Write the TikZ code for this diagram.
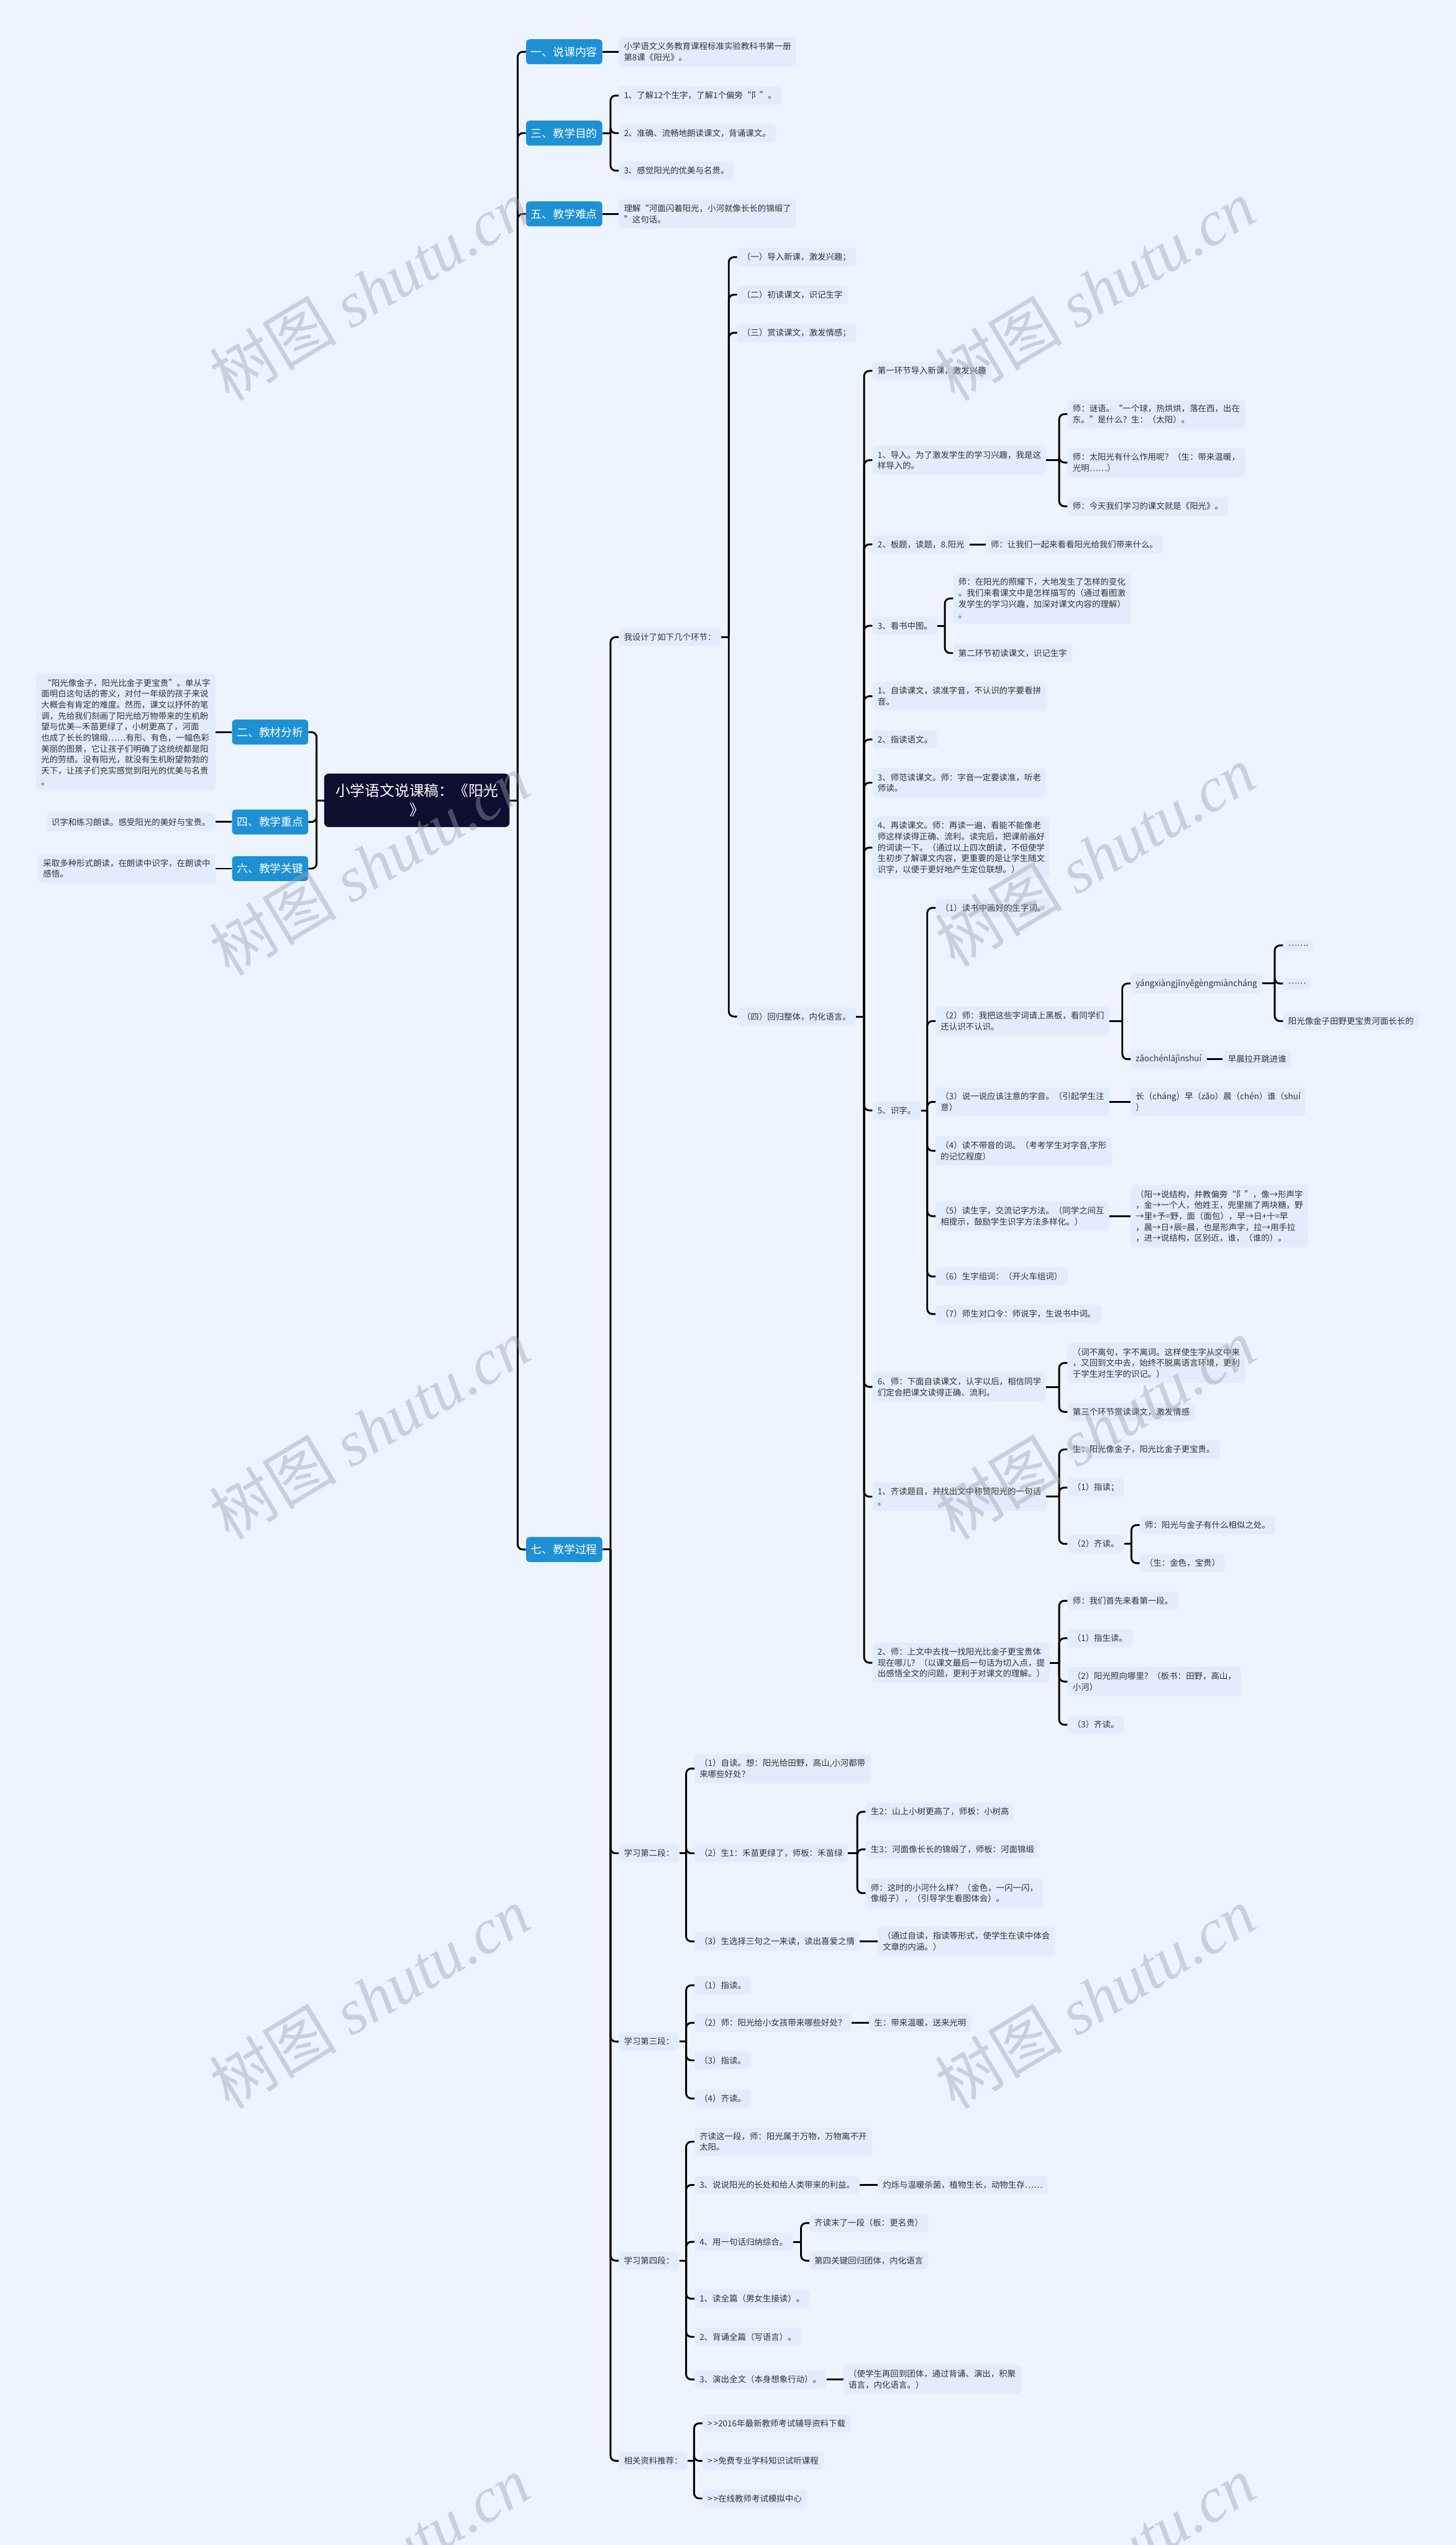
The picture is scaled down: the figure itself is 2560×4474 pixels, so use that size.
\documentclass[tikz,border=0pt]{standalone}
\usepackage{fontspec}
\setmainfont{Noto Sans CJK SC}
\newfontfamily\wmlat{Liberation Serif}
\usetikzlibrary{calc}
\definecolor{bgc}{HTML}{EEF4FF}
\definecolor{leafc}{HTML}{E2ECFC}
\definecolor{bluec}{HTML}{1E90D4}
\definecolor{rootc}{HTML}{0F0D30}
\definecolor{txtc}{HTML}{333333}
\definecolor{wmc}{HTML}{9AA0AA}
\newcommand\fsleaf{\fontsize{14.7pt}{19.3pt}\selectfont}
\newcommand\fsbr{\fontsize{19.5pt}{24pt}\selectfont}
\newcommand\fsroot{\fontsize{26pt}{34pt}\selectfont}
\newcommand\fswm{\fontsize{112pt}{120pt}\selectfont}
\newcommand\lk[2]{\draw[cn] (#1.east) -- ($(#2.west |- #1.east)+(-14.5,0)$); \draw[cn] ($(#2.west |- #1.east)+(-14.5,0)$) |- (#2.west);}
\newcommand\lks[2]{\draw[cn] (#1.east) -- (#1.east -| #2.west);}
\newcommand\lkl[2]{\draw[cn] (#1.west) -- ($(#2.east |- #1.west)+(14.5,0)$); \draw[cn] ($(#2.east |- #1.west)+(14.5,0)$) |- (#2.east);}
\newcommand\lksl[2]{\draw[cn] (#1.west) -- (#1.west -| #2.east);}
\begin{document}
\begin{tikzpicture}[x=1pt,y=-1pt,
  leaf/.style={fill=leafc, rounded corners=6pt, inner xsep=9pt, inner ysep=9pt, align=left, font=\fsleaf, anchor=west, text=txtc},
  brn/.style={fill=bluec, rounded corners=6pt, text=white, font=\fsbr, minimum width=134pt, minimum height=44pt, inner sep=0pt},
  rootn/.style={fill=rootc, rounded corners=8pt, text=white, font=\fsroot, minimum width=326pt, minimum height=94pt, align=center, inner sep=0pt},
  cn/.style={line width=3.2pt, draw=black, rounded corners=9pt},
  wm/.style={rotate=31, text=wmc, opacity=0.42, font=\fswm}]
\fill[bgc] (0,0) rectangle (2560,4474);
\useasboundingbox (0,0) rectangle (2560,4474);

% root and branches
\node[rootn] (root) at (733,1407) {小学语文说课稿：《阳光\\》};
\node[brn] (b1) at (992,91) {一、说课内容};
\node[brn] (b3) at (992,234) {三、教学目的};
\node[brn] (b5) at (992,376) {五、教学难点};
\node[brn] (b7) at (992,2724) {七、教学过程};
\node[brn] (b2) at (475,1287) {二、教材分析};
\node[brn] (b4) at (475,1445) {四、教学重点};
\node[brn] (b6) at (475,1527) {六、教学关键};

% left leaves
\node[leaf, anchor=east] (L2) at (379,1287) {\ “阳光像金子，阳光比金子更宝贵”。单从字\\面明白这句话的寄义，对付一年级的孩子来说\\大概会有肯定的难度。然而，课文以抒怀的笔\\调，先给我们刻画了阳光给万物带来的生机盼\\望与优美—禾苗更绿了，小树更高了，河面\\也成了长长的锦缎……有形、有色，一幅色彩\\美丽的图景，它让孩子们明确了这统统都是阳\\光的劳绩。没有阳光，就没有生机盼望勃勃的\\天下，让孩子们充实感觉到阳光的优美与名贵\\。};
\node[leaf, anchor=east] (L4) at (379,1445) {识字和练习朗读。感受阳光的美好与宝贵。};
\node[leaf, anchor=east] (L6) at (379,1527) {采取多种形式朗读，在朗读中识字，在朗读中\\感悟。};

% right top leaves
\node[leaf] (s1) at (1088,91) {小学语文义务教育课程标准实验教科书第一册\\第8课《阳光》。};
\node[leaf] (m1) at (1088,168) {1、了解12个生字，了解1个偏旁“阝”。};
\node[leaf] (m2) at (1088,234) {2、准确、流畅地朗读课文，背诵课文。};
\node[leaf] (m3) at (1088,300) {3、感觉阳光的优美与名贵。};
\node[leaf] (n1) at (1088,376) {理解“河面闪着阳光，小河就像长长的锦缎了\\”这句话。};

% level 2 under 七
\node[leaf] (d1) at (1088,1120) {我设计了如下几个环节：};
\node[leaf] (d2) at (1088,3258) {学习第二段：};
\node[leaf] (d3) at (1088,3589) {学习第三段：};
\node[leaf] (d4) at (1088,3974) {学习第四段：};
\node[leaf] (d5) at (1088,4326) {相关资料推荐：};

\node[leaf] (e1) at (1296,452) {（一）导入新课，激发兴趣；};
\node[leaf] (e2) at (1296,518) {（二）初读课文，识记生字};
\node[leaf] (e3) at (1296,585) {（三）赏读课文，激发情感；};
\node[leaf] (e4) at (1296,1787) {（四）回归整体，内化语言。};

\node[leaf] (f1) at (1534,652) {第一环节导入新课，激发兴趣};
\node[leaf] (f2) at (1534,809) {1、导入。为了激发学生的学习兴趣，我是这\\样导入的。};
\node[leaf] (f3) at (1534,957) {2、板题，读题，8.阳光};
\node[leaf] (f4) at (1534,1100) {3、看书中图。};
\node[leaf] (f5) at (1534,1224) {1、自读课文，读准字音，不认识的字要看拼\\音。};
\node[leaf] (f6) at (1534,1300) {2、指读语文。};
\node[leaf] (f7) at (1534,1376) {3、师范读课文。师：字音一定要读准，听老\\师读。};
\node[leaf] (f8) at (1534,1490) {4、再读课文。师：再读一遍，看能不能像老\\师这样读得正确、流利。读完后，把课前画好\\的词读一下。（通过以上四次朗读，不但使学\\生初步了解课文内容，更重要的是让学生随文\\识字，以便于更好地产生定位联想。）};
\node[leaf] (f9) at (1534,1952) {5、识字。};
\node[leaf] (f10) at (1534,2438) {6、师：下面自读课文，认字以后，相信同学\\们定会把课文读得正确、流利。};
\node[leaf] (f11) at (1534,2631) {1、齐读题目，并找出文中称赞阳光的一句话\\。};
\node[leaf] (f12) at (1534,2923) {2、师：上文中去找一找阳光比金子更宝贵体\\现在哪儿？（以课文最后一句话为切入点，提\\出感悟全文的问题，更利于对课文的理解。）};

\node[leaf] (g1) at (1877,728) {师：谜语。“一个球，热烘烘，落在西，出在\\东。”是什么？生：（太阳）。};
\node[leaf] (g2) at (1877,813) {师：太阳光有什么作用呢？（生：带来温暖，\\光明……）};
\node[leaf] (g3) at (1877,890) {师：今天我们学习的课文就是《阳光》。};
\node[leaf] (g4) at (1733,957) {师：让我们一起来看看阳光给我们带来什么。};
\node[leaf] (g5) at (1676,1052) {师：在阳光的照耀下，大地发生了怎样的变化\\。我们来看课文中是怎样描写的（通过看图激\\发学生的学习兴趣，加深对课文内容的理解）\\。};
\node[leaf] (g6) at (1676,1148) {第二环节初读课文，识记生字};

\node[leaf] (h1) at (1645,1596) {（1）读书中画好的生字词。};
\node[leaf] (h2) at (1645,1795) {（2）师：我把这些字词请上黑板，看同学们\\还认识不认识。};
\node[leaf] (h3) at (1645,1937) {（3）说一说应该注意的字音。（引起学生注\\意）};
\node[leaf] (h4) at (1645,2023) {（4）读不带音的词。（考考学生对字音,字形\\的记忆程度）};
\node[leaf] (h5) at (1645,2138) {（5）读生字，交流记字方法。（同学之间互\\相提示，鼓励学生识字方法多样化。）};
\node[leaf] (h6) at (1645,2244) {（6）生字组词：（开火车组词）};
\node[leaf] (h7) at (1645,2310) {（7）师生对口令：师说字，生说书中词。};

\node[leaf] (i1) at (1988,1729) {yángxiàngjīnyěgèngmiàncháng};
\node[leaf] (i2) at (1988,1862) {zǎochénlājìnshuí};
\node[leaf] (i3) at (1988,1937) {长（cháng）早（zǎo）晨（chén）谁（shuí\\）};
\node[leaf] (i4) at (1988,2138) {（阳→说结构，并教偏旁“阝”，像→形声字\\，金→一个人，他姓王，兜里揣了两块糖，野\\→里+予=野，面（面包），早→日+十=早\\，晨→日+辰=晨，也是形声字，拉→用手拉\\，进→说结构，区别近，谁，（谁的）。};
\node[leaf] (j1) at (2256,1662) {…….};
\node[leaf] (j2) at (2256,1729) {……};
\node[leaf] (j3) at (2256,1795) {阳光像金子田野更宝贵河面长长的};
\node[leaf] (j4) at (2150,1862) {早晨拉开跳进谁};

\node[leaf] (k1) at (1877,2396) {（词不离句，字不离词。这样使生字从文中来\\，又回到文中去，始终不脱离语言环境，更利\\于学生对生字的识记。）};
\node[leaf] (k2) at (1877,2482) {第三个环节赏读课文，激发情感};
\node[leaf] (k3) at (1877,2548) {生：阳光像金子，阳光比金子更宝贵。};
\node[leaf] (k4) at (1877,2615) {（1）指读；};
\node[leaf] (k5) at (1877,2714) {（2）齐读。};
\node[leaf] (k6) at (2004,2681) {师：阳光与金子有什么相似之处。};
\node[leaf] (k7) at (2004,2748) {（生：金色，宝贵）};

\node[leaf] (p1) at (1877,2814) {师：我们首先来看第一段。};
\node[leaf] (p2) at (1877,2880) {（1）指生读。};
\node[leaf] (p3) at (1877,2956) {（2）阳光照向哪里？（板书：田野，高山，\\小河）};
\node[leaf] (p4) at (1877,3032) {（3）齐读。};

\node[leaf] (q1) at (1221,3109) {（1）自读。想：阳光给田野，高山,小河都带\\来哪些好处？};
\node[leaf] (q2) at (1221,3258) {（2）生1：禾苗更绿了，师板：禾苗绿};
\node[leaf] (q3) at (1221,3413) {（3）生选择三句之一来读，读出喜爱之情};
\node[leaf] (r1) at (1522,3185) {生2：山上小树更高了，师板：小树高};
\node[leaf] (r2) at (1522,3251) {生3：河面像长长的锦缎了，师板：河面锦缎};
\node[leaf] (r3) at (1522,3328) {师：这时的小河什么样？（金色，一闪一闪，\\像缎子），（引导学生看图体会）。};
\node[leaf] (r4) at (1543,3413) {（通过自读，指读等形式，使学生在读中体会\\文章的内涵。）};

\node[leaf] (t1) at (1221,3490) {（1）指读。};
\node[leaf] (t2) at (1221,3556) {（2）师：阳光给小女孩带来哪些好处？};
\node[leaf] (t3) at (1221,3622) {（3）指读。};
\node[leaf] (t4) at (1221,3689) {（4）齐读。};
\node[leaf] (t5) at (1528,3556) {生：带来温暖，送来光明};

\node[leaf] (u1) at (1221,3765) {齐读这一段，师：阳光属于万物，万物离不开\\太阳。};
\node[leaf] (u2) at (1221,3841) {3、说说阳光的长处和给人类带来的利益。};
\node[leaf] (u3) at (1221,3941) {4、用一句话归纳综合。};
\node[leaf] (u4) at (1221,4041) {1、读全篇（男女生接读）。};
\node[leaf] (u5) at (1221,4108) {2、背诵全篇（写语言）。};
\node[leaf] (u6) at (1221,4183) {3、演出全文（本身想象行动）。};
\node[leaf] (u7) at (1543,3841) {灼烁与温暖杀菌，植物生长，动物生存……};
\node[leaf] (u8) at (1423,3908) {齐读末了一段（板：更名贵）};
\node[leaf] (u9) at (1423,3974) {第四关键回归团体，内化语言};
\node[leaf] (u10) at (1483,4183) {（使学生再回到团体，通过背诵、演出，积聚\\语言，内化语言。）};

\node[leaf] (w1) at (1235,4260) {>\,>2016年最新教师考试辅导资料下载};
\node[leaf] (w2) at (1235,4326) {>\,>免费专业学科知识试听课程};
\node[leaf] (w3) at (1235,4392) {>\,>在线教师考试模拟中心};

% connectors
\foreach \c in {b1,b3,b5,b7} {\lk{root}{\c}}
\foreach \c in {b2,b4,b6} {\lkl{root}{\c}}
\lksl{b2}{L2} \lksl{b4}{L4} \lksl{b6}{L6}
\lks{b1}{s1}
\foreach \c in {m1,m2,m3} {\lk{b3}{\c}}
\lks{b5}{n1}
\foreach \c in {d1,d2,d3,d4,d5} {\lk{b7}{\c}}
\foreach \c in {e1,e2,e3,e4} {\lk{d1}{\c}}
\foreach \c in {f1,f2,f3,f4,f5,f6,f7,f8,f9,f10,f11,f12} {\lk{e4}{\c}}
\foreach \c in {g1,g2,g3} {\lk{f2}{\c}}
\lks{f3}{g4}
\foreach \c in {g5,g6} {\lk{f4}{\c}}
\foreach \c in {h1,h2,h3,h4,h5,h6,h7} {\lk{f9}{\c}}
\foreach \c in {i1,i2} {\lk{h2}{\c}}
\foreach \c in {j1,j2,j3} {\lk{i1}{\c}}
\lks{i2}{j4} \lks{h3}{i3} \lks{h5}{i4}
\foreach \c in {k1,k2} {\lk{f10}{\c}}
\foreach \c in {k3,k4,k5} {\lk{f11}{\c}}
\foreach \c in {k6,k7} {\lk{k5}{\c}}
\foreach \c in {p1,p2,p3,p4} {\lk{f12}{\c}}
\foreach \c in {q1,q2,q3} {\lk{d2}{\c}}
\foreach \c in {r1,r2,r3} {\lk{q2}{\c}}
\lks{q3}{r4}
\foreach \c in {t1,t2,t3,t4} {\lk{d3}{\c}}
\lks{t2}{t5}
\foreach \c in {u1,u2,u3,u4,u5,u6} {\lk{d4}{\c}}
\lks{u2}{u7}
\foreach \c in {u8,u9} {\lk{u3}{\c}}
\lks{u6}{u10}
\foreach \c in {w1,w2,w3} {\lk{d5}{\c}}

% watermarks
\foreach \wx/\wy/\wn in {650/510/1,1926/510/2,650/1520/3,1926/1505/4,650/2512/5,1926/2512/6,650/3512/7,1926/3512/8,650/4512/9,1926/4512/10}
  {\node[wm] (wm\wn) at (\wx,\wy) {树图 {\wmlat\itshape shutu.cn}};}
\end{tikzpicture}
\end{document}
